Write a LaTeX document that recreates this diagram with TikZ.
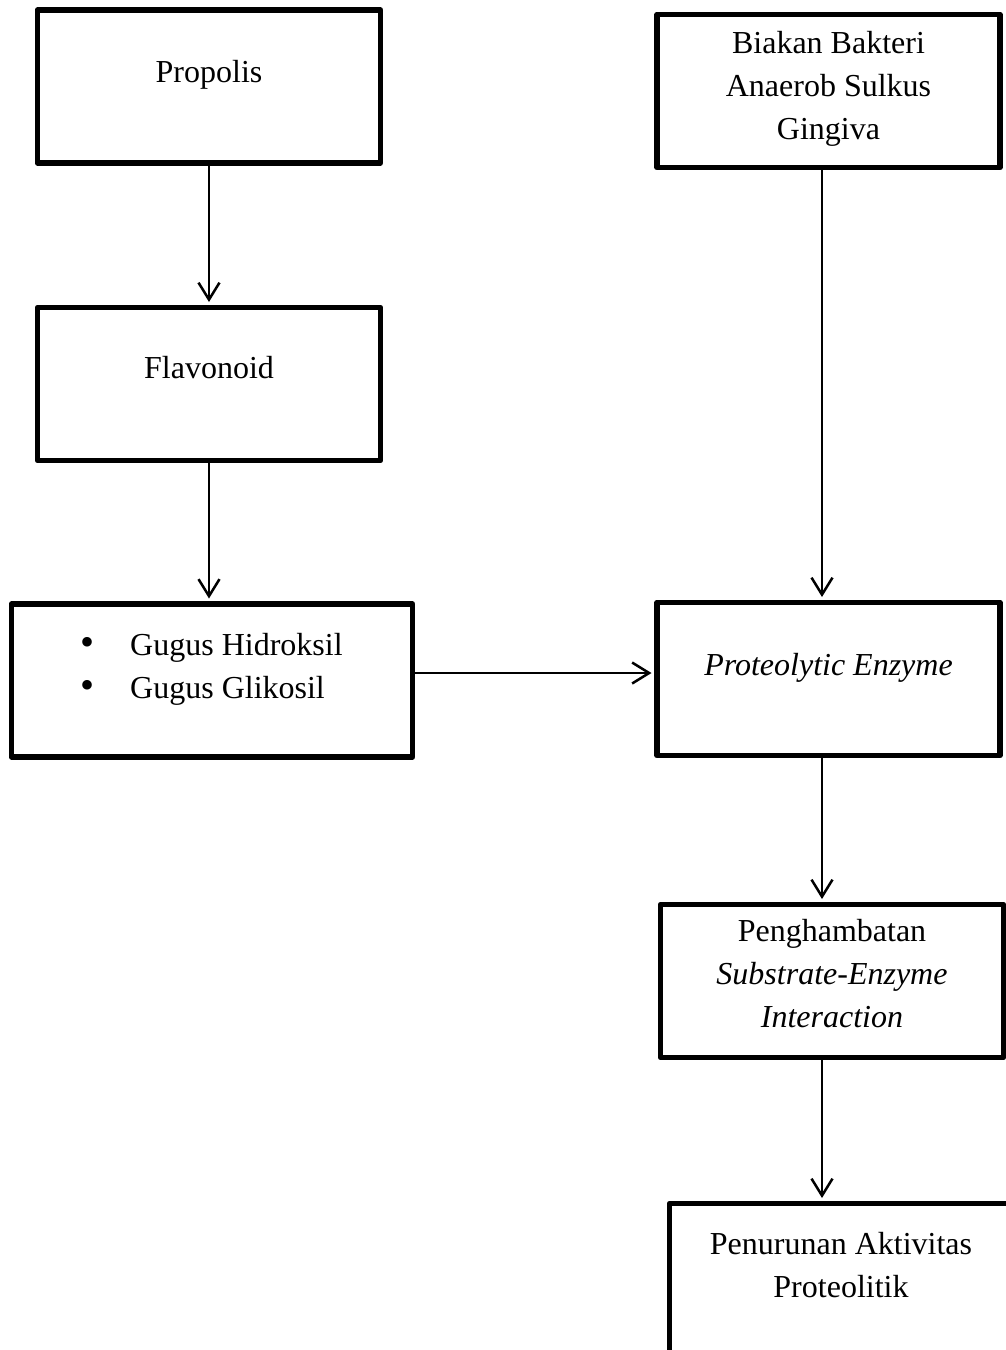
\documentclass[tikz,border=0pt]{standalone}
\usepackage{fontspec}
\setmainfont{Liberation Serif}
\usetikzlibrary{arrows.meta}
\usetikzlibrary{positioning}

\begin{document}
\begin{tikzpicture}[x=1pt, y=-1pt,
  box/.style={rectangle, draw=black, line width=5.5pt, line join=round, minimum width=343pt, minimum height=153pt, inner sep=0pt},
  lbl/.style={font=\fontsize{32}{43}\selectfont, align=center, inner sep=0pt, anchor=base},
  arr/.style={-{Straight Barb[length=17pt, width=21pt]}, line width=2.5pt, shorten >=2.75pt}]
\useasboundingbox (0,0) rectangle (1006,1350);
\clip (0,0) rectangle (1006,1350);
% boxes
\node [box] (propolis) at (209, 86.5) {};
\node [box] (flavonoid) at (209, 384) {};
\node [box, minimum width=401pt] (gugus) at (212, 680.5) {};
\node [box] (biakan) at (828.5, 91) {};
\node [box] (proteo) at (828.5, 679) {};
\node [box] (hambat) at (832, 981) {};
\node [box] (turun) at (841, 1280) {};
% texts (base = last line)
\node [lbl] (propolisT) at (209, 82) {Propolis};
\node [lbl] (flavonoidT) at (209, 378) {Flavonoid};
\node [lbl, align=left, anchor=base west] (gugusT) at (80, 698) {\makebox[50pt][l]{\scalebox{1.25}{\textbullet}}Gugus Hidroksil\\\makebox[50pt][l]{\scalebox{1.25}{\textbullet}}Gugus Glikosil};
\node [lbl] (biakanT) at (828.5, 139) {Biakan Bakteri\\Anaerob Sulkus\\Gingiva};
\node [lbl] (proteoT) at (828.5, 675) {\itshape Proteolytic Enzyme};
\node [lbl] (hambatT) at (832, 1027) {Penghambatan\\\textit{Substrate-Enzyme}\\\textit{Interaction}};
\node [lbl] (turunT) at (841, 1297) {Penurunan Aktivitas\\Proteolitik};
% arrows
\draw [arr] (propolis) to (flavonoid);
\draw [arr] (flavonoid.south) to (flavonoid.south |- gugus.north);
\draw [arr] ([yshift=7.5pt]gugus.east) to ([yshift=7.5pt]gugus.east -| proteo.west);
\draw [arr] ([xshift=-6.5pt]biakan.south) to ([xshift=-6.5pt]proteo.north);
\draw [arr] ([xshift=-6.5pt]proteo.south) to ([xshift=-6.5pt]proteo.south |- hambat.north);
\draw [arr] ([xshift=-6.5pt]proteo.south |- hambat.south) to ([xshift=-6.5pt]proteo.south |- turun.north);
\end{tikzpicture}
\end{document}
